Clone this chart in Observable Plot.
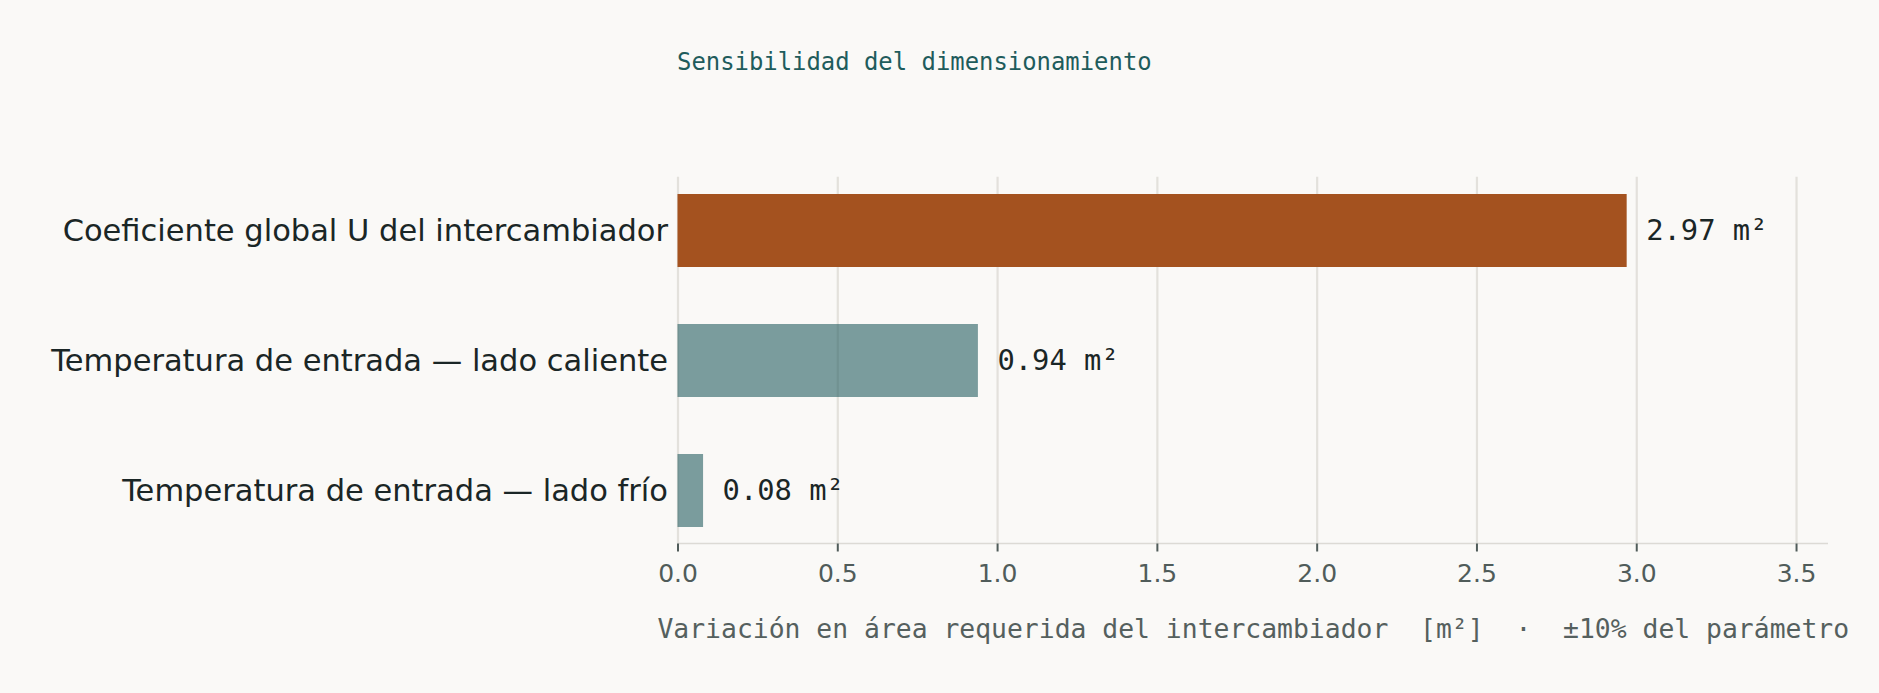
<!DOCTYPE html>
<html>
<head>
<meta charset="utf-8">
<script src="https://cdn.jsdelivr.net/npm/d3@7"></script>
<script src="https://cdn.jsdelivr.net/npm/@observablehq/plot@0.6"></script>
<style>
  html, body { margin: 0; padding: 0; background: #faf9f7; }
  #wrap { position: relative; width: 1879px; height: 693px; background: #faf9f7; }
  #title { position: absolute; left: 677px; top: 50px; font-family: "DejaVu Sans Mono", monospace; font-size: 23.9px; line-height: 24px; color: #1f5c5c; white-space: pre; }
  #chart { position: absolute; left: 0; top: 0; }
</style>
</head>
<body>
<div id="wrap">
  <div id="chart"></div>
  <div id="title">Sensibilidad del dimensionamiento</div>
</div>
<script>
const categories = [
  "Coeficiente global U del intercambiador",
  "Temperatura de entrada — lado caliente",
  "Temperatura de entrada — lado frío"
];
const values = [2.97, 0.94, 0.08];
const highlight = [true, false, false];
const xTicks = [0, 0.5, 1.0, 1.5, 2.0, 2.5, 3.0, 3.5];
const xLabel = "Variación en área requerida del intercambiador  [m²]  ·  ±10% del parámetro";
const unit = "m²";

const data = categories.map((name, i) => ({name, value: values[i], hi: highlight[i]}));

const W = 1879, H = 693;
const plot = Plot.plot({
  width: W,
  height: H,
  marginLeft: 677.5,
  marginRight: 51,
  marginTop: 176.7,
  marginBottom: 149.5,
  style: {background: "#faf9f7", fontFamily: "DejaVu Sans, sans-serif", overflow: "visible"},
  x: {domain: [0, 3.6]},
  y: {domain: categories, paddingInner: 0.44, paddingOuter: 0.125},
  marks: [
    Plot.gridX(xTicks, {stroke: "#e3e1dc", strokeWidth: 2.2, strokeOpacity: 1}),
    Plot.barX(data.filter(d => d.hi), {x: "value", y: "name", fill: "#a4521f"}),
    Plot.barX(data.filter(d => !d.hi), {x: "value", y: "name", fill: "#255e61", fillOpacity: 0.6}),
    (index, scales, values, dims) => {
      const l = d3.create("svg:line")
        .attr("x1", dims.marginLeft)
        .attr("x2", dims.width - dims.marginRight)
        .attr("y1", dims.height - dims.marginBottom)
        .attr("y2", dims.height - dims.marginBottom)
        .attr("stroke", "#dcdad5")
        .attr("stroke-width", 1.6);
      return l.node();
    },
    Plot.axisX({ticks: xTicks, tickSize: 8, tickPadding: 12.5, tickFormat: d3.format(".1f"),
      fontSize: 25, color: "#505c5a", strokeWidth: 2, label: null}),
    Plot.axisY({tickSize: 0, tickPadding: 10, fontSize: 30.5, color: "#1a2626", label: null}),
    Plot.text(data, {x: "value", y: "name", text: d => `${d.value.toFixed(2)} ${unit}`, dx: 19,
      textAnchor: "start", fontSize: 28.8, fontFamily: "DejaVu Sans Mono, monospace", fill: "#1a2626"}),
    Plot.text([xLabel], {frameAnchor: "bottom", text: d => d, dy: 93.5, fontSize: 26.4,
      fontFamily: "DejaVu Sans Mono, monospace", fill: "#55605e"})
  ]
});
document.getElementById("chart").appendChild(plot);
</script>
</body>
</html>
